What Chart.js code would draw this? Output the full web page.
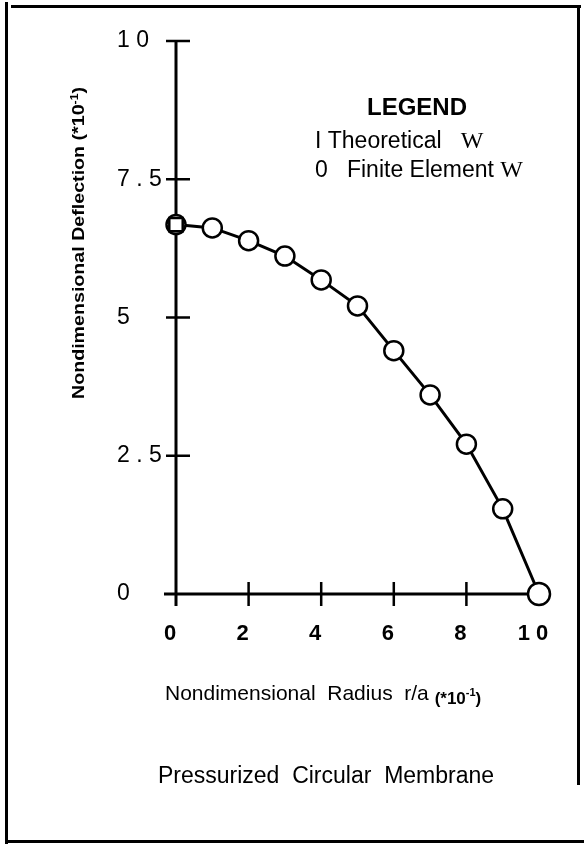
<!DOCTYPE html>
<html><head><meta charset="utf-8">
<script src="https://cdn.jsdelivr.net/npm/chart.js@4.4.0/dist/chart.umd.min.js"></script>
<style>html,body{margin:0;padding:0;background:#fff;}canvas{display:block;}</style>
</head><body>
<canvas id="c" width="584" height="844"></canvas>
<script>
// ---- data ----
const radius = [0, 1, 2, 3, 4, 5, 6, 7, 8, 9, 10];
const finiteElementW = [6.68, 6.62, 6.39, 6.11, 5.68, 5.21, 4.40, 3.60, 2.71, 1.54, 0];
const theoreticalW   = [6.68, 6.62, 6.39, 6.11, 5.68, 5.21, 4.40, 3.60, 2.71, 1.54, 0];
const xTickValues = [0, 2, 4, 6, 8, 10];
const xTickLabels = ['0', '2', '4', '6', '8', '1 0'];
const yTickValues = [0, 2.5, 5, 7.5, 10];
const yTickLabels = ['0', '2 . 5', '5', '7 . 5', '1 0'];

const FONT = '"Liberation Sans", Arial, sans-serif';
const SERIF = '"Liberation Serif", "Times New Roman", serif';

function pts(xs, ys) { return xs.map((x, i) => ({ x: x, y: ys[i] })); }

function drawRuns(ctx, runs, x, y) {
  let cx = x;
  runs.forEach(r => {
    ctx.font = r.font;
    ctx.fillText(r.text, cx, y + (r.dy || 0));
    cx += ctx.measureText(r.text).width;
  });
  return cx;
}
function runsWidth(ctx, runs) {
  let w = 0;
  runs.forEach(r => { ctx.font = r.font; w += ctx.measureText(r.text).width; });
  return w;
}

const axesPlugin = {
  id: 'axesPlugin',
  beforeDatasetsDraw(chart) {
    const ctx = chart.ctx;
    const xs = chart.scales.x, ys = chart.scales.y;
    const x0 = xs.getPixelForValue(0), y0 = ys.getPixelForValue(0);
    const yTop = ys.getPixelForValue(10), xEnd = xs.getPixelForValue(10);
    ctx.save();
    ctx.strokeStyle = '#000';
    ctx.lineWidth = 3;
    ctx.lineCap = 'butt';
    ctx.beginPath();
    ctx.moveTo(x0, yTop); ctx.lineTo(x0, y0 + 12);
    ctx.moveTo(x0 - 12, y0); ctx.lineTo(xEnd + 6, y0);
    ctx.stroke();
    ctx.lineWidth = 2.5;
    ctx.beginPath();
    yTickValues.forEach(v => {
      const p = ys.getPixelForValue(v);
      if (v === 0) return;
      ctx.moveTo(x0 - 10, p); ctx.lineTo(x0 + 14, p);
    });
    xTickValues.forEach(v => {
      const p = xs.getPixelForValue(v);
      if (v === 0 || v === 10) return;
      ctx.moveTo(p, y0 - 12); ctx.lineTo(p, y0 + 12);
    });
    ctx.stroke();
    ctx.restore();
  },
  afterDraw(chart) {
    const ctx = chart.ctx;
    ctx.save();
    ctx.fillStyle = '#000';
    ctx.textBaseline = 'alphabetic';
    ctx.textAlign = 'left';

    // frame
    ctx.fillRect(5, 2, 3, 842);
    ctx.fillRect(11, 5, 570, 3);
    ctx.fillRect(577, 5, 3, 780);
    ctx.fillRect(5, 840, 579, 3);

    // legend
    ctx.font = 'bold 24px ' + FONT;
    ctx.textAlign = 'center';
    ctx.fillText('LEGEND', 417, 115);
    ctx.textAlign = 'left';
    drawRuns(ctx, [
      { text: 'I Theoretical   ', font: '23px ' + FONT },
      { text: 'W', font: '24px ' + SERIF }
    ], 315, 148);
    drawRuns(ctx, [
      { text: '0   Finite Element ', font: '23px ' + FONT },
      { text: 'W', font: '24px ' + SERIF }
    ], 315, 177);

    // x axis title
    drawRuns(ctx, [
      { text: 'Nondimensional  Radius  r/a ', font: '21px ' + FONT },
      { text: '(*10', font: 'bold 17px ' + FONT, dy: 4 },
      { text: '-1', font: 'bold 11px ' + FONT, dy: -4 },
      { text: ')', font: 'bold 17px ' + FONT, dy: 4 }
    ], 165, 700);

    // bottom caption
    ctx.font = '23px ' + FONT;
    ctx.textAlign = 'center';
    ctx.fillText('Pressurized  Circular  Membrane', 326, 783);
    ctx.textAlign = 'left';

    // y axis title (rotated)
    const yRuns = [
      { text: 'Nondimensional Deflection (*10', font: 'bold 16px ' + FONT },
      { text: '-1', font: 'bold 10px ' + FONT, dy: -6 },
      { text: ')', font: 'bold 16px ' + FONT }
    ];
    const w = runsWidth(ctx, yRuns);
    const target = 312;
    ctx.translate(84, 243);
    ctx.rotate(-Math.PI / 2);
    ctx.scale(target / w, 1);
    drawRuns(ctx, yRuns, -w / 2, 0);
    ctx.restore();
  }
};

new Chart(document.getElementById('c'), {
  type: 'scatter',
  data: {
    datasets: [
      {
        label: 'Theoretical W (marker)',
        data: [{ x: radius[0], y: theoreticalW[0] }],
        showLine: false,
        pointStyle: 'rect',
        pointRadius: 9.5,
        pointBorderWidth: 2.5,
        pointBackgroundColor: 'rgba(255,255,255,0)',
        pointBorderColor: '#000',
        order: 1,
        clip: false
      },
      {
        label: 'Finite Element W',
        data: pts(radius, finiteElementW),
        showLine: false,
        pointStyle: 'circle',
        pointRadius: ctx => (ctx.dataIndex === finiteElementW.length - 1 ? 11 : 9.5),
        pointBorderWidth: 2.5,
        pointBackgroundColor: '#fff',
        pointBorderColor: '#000',
        order: 2,
        clip: false
      },
      {
        label: 'Theoretical W',
        data: pts(radius, theoreticalW),
        showLine: true,
        borderColor: '#000',
        borderWidth: 3,
        tension: 0,
        pointRadius: 0,
        order: 3,
        clip: false
      }
    ]
  },
  options: {
    responsive: false,
    animation: false,
    devicePixelRatio: 1,
    layout: { padding: { left: 117, top: 41, right: 45, bottom: 190 } },
    plugins: { legend: { display: false }, tooltip: { enabled: false }, title: { display: false } },
    scales: {
      x: {
        type: 'linear', min: 0, max: 10,
        afterFit: s => { s.height = 60; },
        afterBuildTicks: s => { s.ticks = xTickValues.map(v => ({ value: v })); },
        grid: { display: false, drawTicks: false },
        border: { display: false },
        ticks: {
          padding: 27,
          labelOffset: -6,
          color: '#000',
          font: { family: FONT, size: 22, weight: 'bold' },
          callback: v => xTickLabels[xTickValues.indexOf(v)]
        }
      },
      y: {
        type: 'linear', min: 0, max: 10,
        afterFit: s => { s.width = 59; },
        afterBuildTicks: s => { s.ticks = yTickValues.map(v => ({ value: v })); },
        grid: { display: false, drawTicks: false },
        border: { display: false },
        ticks: {
          crossAlign: 'far',
          padding: 0,
          color: '#000',
          font: { family: FONT, size: 23 },
          callback: v => yTickLabels[yTickValues.indexOf(v)]
        }
      }
    }
  },
  plugins: [axesPlugin]
});
</script>
</body></html>
